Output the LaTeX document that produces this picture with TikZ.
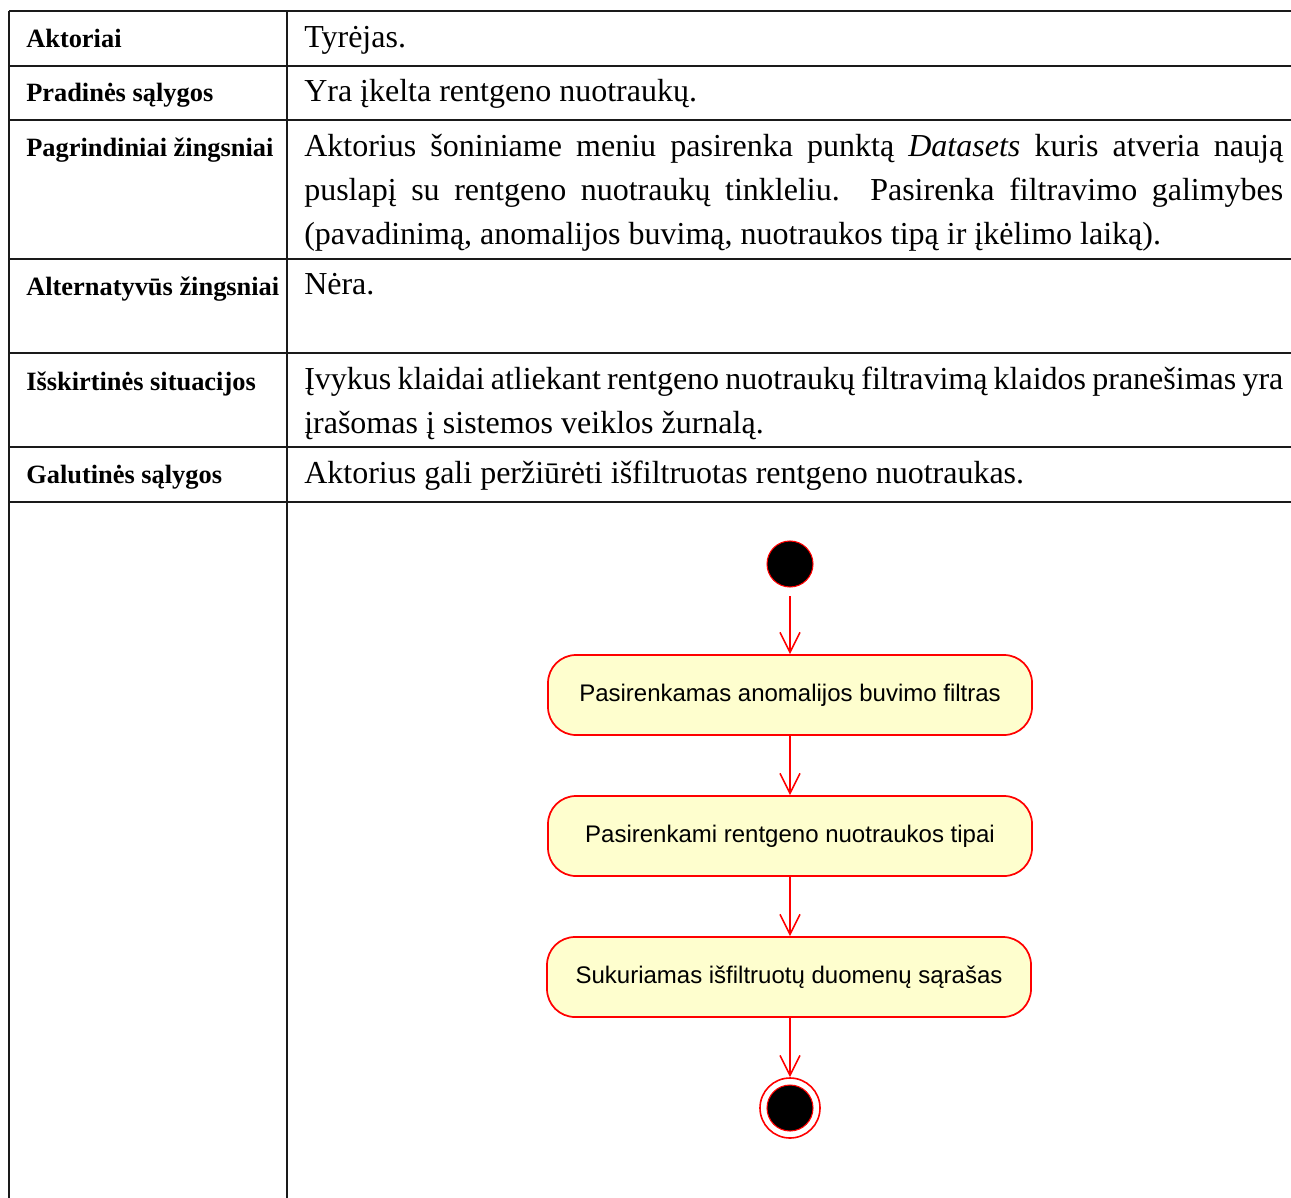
\documentclass[tikz,border=0pt]{standalone}
\usepackage{fontspec}
\setmainfont{Liberation Serif}
\newfontfamily\diagfont{Liberation Sans}
\usetikzlibrary{arrows.meta}
\definecolor{actfill}{HTML}{FEFECE}
\definecolor{actline}{HTML}{FF0000}
\definecolor{rulecol}{HTML}{1A1A1A}

\begin{document}
\begin{tikzpicture}[x=0.75pt,y=-0.75pt,
  rowrule/.style={draw=rulecol,line width=1.1pt},
  head/.style={anchor=base west,inner sep=0pt,font=\fontsize{19.8}{24}\selectfont\bfseries},
  body/.style={anchor=base west,inner sep=0pt,font=\fontsize{24}{33}\selectfont},
  activity/.style={draw=actline,fill=actfill,line width=1.3pt,rounded corners=21pt,
    minimum width=363pt,minimum height=60pt,inner sep=0pt,
    font=\diagfont\fontsize{18}{22}\selectfont},
  initial/.style={circle,fill=black,draw=actline,line width=0.8pt,minimum size=34.5pt,inner sep=0pt},
  finalring/.style={circle,fill=white,draw=actline,line width=1.2pt,minimum size=45pt,inner sep=0pt},
  flow/.style={draw=actline,line width=1.2pt,-{Straight Barb[length=15pt,width=15pt]}},
]
\useasboundingbox (0,0) rectangle (1291,1198);

% table rules
\draw[rowrule] (9,11) -- (9,1198);
\draw[rowrule] (287,11) -- (287,1198);
\foreach \y in {11,66,120,259,353,447,502}
  \draw[rowrule] (9,\y) -- (1291,\y);

% left column
\node[head] (h1) at (26,48) {Aktoriai};
\node[head] (h2) at (26,102) {Pradinės sąlygos};
\node[head] (h3) at (26,157) {Pagrindiniai žingsniai};
\node[head] (h4) at (26,295) {Alternatyvūs žingsniai};
\node[head] (h5) at (26,390) {Išskirtinės situacijos};
\node[head] (h6) at (26,483) {Galutinės sąlygos};

% right column
\node[body] (b1) at (304,48) {Tyrėjas.};
\node[body] (b2) at (304,102) {Yra įkelta rentgeno nuotraukų.};
\node[body] (b3a) at (304,157) {\hbox to 734.25pt{Aktorius šoniniame meniu pasirenka punktą \textit{Datasets} kuris atveria naują}};
\node[body] (b3b) at (304,201) {\hbox to 734.25pt{puslapį su rentgeno nuotraukų tinkleliu. Pasirenka filtravimo galimybes}};
\node[body] (b3c) at (304,245) {(pavadinimą, anomalijos buvimą, nuotraukos tipą ir įkėlimo laiką).};
\node[body] (b4) at (304,294) {Nėra.};
\node[body] (b5a) at (304,389) {\hbox to 734.25pt{Įvykus klaidai atliekant rentgeno nuotraukų filtravimą klaidos pranešimas yra}};
\node[body] (b5b) at (304,433) {įrašomas į sistemos veiklos žurnalą.};
\node[body] (b6) at (304,483) {Aktorius gali peržiūrėti išfiltruotas rentgeno nuotraukas.};

% activity diagram
\node[initial] (start) at (790,564) {};
\node[activity] (a1) at (790,695) {Pasirenkamas anomalijos buvimo filtras};
\node[activity] (a2) at (790,836) {Pasirenkami rentgeno nuotraukos tipai};
\node[activity] (a3) at (789,977) {Sukuriamas išfiltruotų duomenų sąrašas};
\node[finalring] (stopring) at (790,1108) {};
\node[initial] (stop) at (790,1108) {};

\draw[flow,shorten <=6.5pt] (start) -- (a1);
\draw[flow] (a1) -- (a2);
\draw[flow] (a2.south) -- (a2.south |- a3.north);
\draw[flow] (a3.south -| stopring) -- (stopring);
\end{tikzpicture}
\end{document}
